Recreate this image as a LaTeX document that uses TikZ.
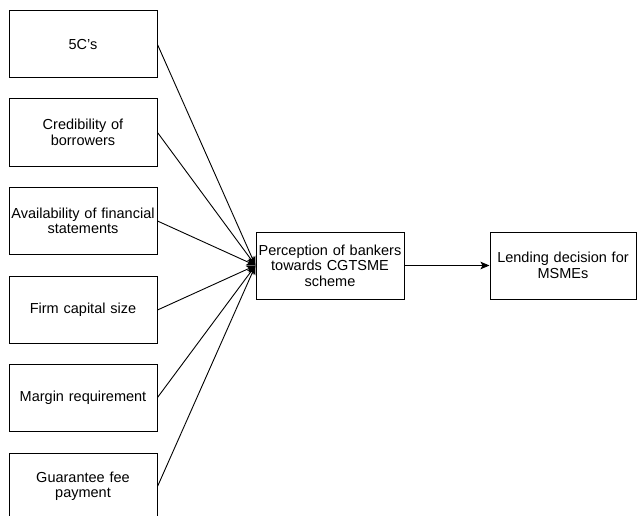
\documentclass[tikz,border=0pt]{standalone}
\usepackage{fontspec}
\setmainfont{Liberation Sans}
\usetikzlibrary{arrows.meta}
\begin{document}
\begin{tikzpicture}[x=1pt,y=-1pt,
  box/.style={draw=black, line width=1pt, minimum width=148pt, minimum height=67pt,
    text width=146pt, align=center, inner sep=0pt,
    font=\fontsize{14.5pt}{15.5pt}\selectfont},
  conn/.style={line width=0.9pt, -{Stealth[length=9pt,width=7.5pt,inset=2pt]}}]
\clip (0,0) rectangle (637,516);
\fill[white] (0,0) rectangle (637,516);
\node[box] (b1) at (83,44.5) {5C's};
\node[box] (b2) at (83,132.5) {Credibility of\\borrowers};
\node[box] (b3) at (83,221) {Availability of financial\\statements};
\node[box] (b4) at (83,310) {Firm capital size};
\node[box] (b5) at (83,397.5) {Margin requirement};
\node[box] (b6) at (83,486.5) {Guarantee fee\\payment};
\node[box] (p) at (330,265.5) {Perception of bankers\\towards CGTSME\\scheme};
\node[box, minimum width=146pt] (l) at (563,265.5) {Lending decision for\\MSMEs};
\foreach \b in {b1,b2,b3,b4,b5,b6} \draw[conn] (\b.east) -- (p.west);
\draw[conn] (p.east) -- (l.west);
\end{tikzpicture}
\end{document}
